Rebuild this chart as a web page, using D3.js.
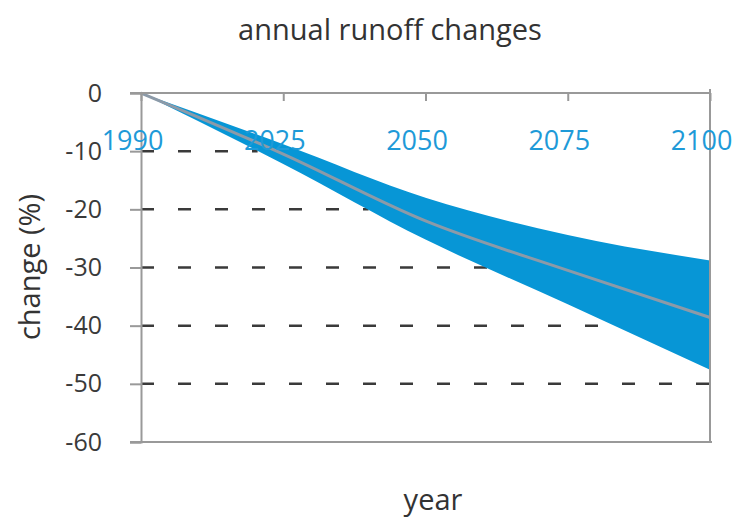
<!DOCTYPE html>
<html>
<head>
<meta charset="utf-8">
<script src="https://cdn.jsdelivr.net/npm/d3@7"></script>
<style>
  body { margin: 0; background: #fff; }
  svg { font-family: "Open Sans", "Noto Sans", sans-serif; }
</style>
</head>
<body>
<svg id="chart" width="734" height="518"></svg>
<script>
// values
var years = ["1990", "2025", "2050", "2075", "2100"];
var upper = [0, -8.8, -18.0, -24.4, -28.8];
var lower = [0, -12.2, -25.2, -36.3, -47.6];
var median = [0, -10.5, -22.0, -30.5, -38.6];
var yTicks = [0, -10, -20, -30, -40, -50, -60];
var gridLevels = [-10, -20, -30, -40, -50];

var svg = d3.select("#chart");
var plotL = 141, plotR = 710, plotT = 93, plotB = 442;

var x = d3.scalePoint().domain(years).range([plotL, plotR]);
var y = d3.scaleLinear().domain([0, -60]).range([plotT, plotB]);

var rows = years.map(function(d, i) {
  return { year: d, hi: upper[i], lo: lower[i], mid: median[i] };
});

// the dashed lines stop where the lower edge of the band reaches them
function gridEnd(level) {
  for (var i = 1; i < rows.length; i++) {
    var a = rows[i - 1], b = rows[i];
    if (b.lo <= level && a.lo > level) {
      var t = (a.lo - level) / (a.lo - b.lo);
      return x(a.year) + t * (x(b.year) - x(a.year));
    }
  }
  return plotR;
}

svg.append("g")
  .selectAll("line")
  .data(gridLevels)
  .enter().append("line")
  .attr("x1", plotL)
  .attr("x2", function(d) { return gridEnd(d); })
  .attr("y1", function(d) { return y(d); })
  .attr("y2", function(d) { return y(d); })
  .attr("stroke", "#3a3a3a")
  .attr("stroke-width", 2.5)
  .attr("stroke-dasharray", "13,24");

// range band
var area = d3.area()
  .x(function(d) { return x(d.year); })
  .y0(function(d) { return y(d.lo); })
  .y1(function(d) { return y(d.hi); })
  .curve(d3.curveMonotoneX);

svg.append("path")
  .datum(rows)
  .attr("d", area)
  .attr("fill", "#0796d6");

var line = d3.line()
  .x(function(d) { return x(d.year); })
  .y(function(d) { return y(d.mid); })
  .curve(d3.curveMonotoneX);

svg.append("path")
  .datum(rows)
  .attr("d", line)
  .attr("fill", "none")
  .attr("stroke", "#8c9aa8")
  .attr("stroke-width", 3);

// frame
var frame = svg.append("g").attr("stroke", "#999").attr("stroke-width", 2);
frame.append("line").attr("x1", 130).attr("x2", plotR).attr("y1", plotT).attr("y2", plotT);
frame.append("line").attr("x1", 130).attr("x2", plotR + 2).attr("y1", plotB).attr("y2", plotB);
frame.append("line").attr("x1", plotR).attr("x2", plotR).attr("y1", plotT - 4).attr("y2", plotB);

// left axis
var yAxis = svg.append("g")
  .attr("transform", "translate(" + plotL + ",0)")
  .call(d3.axisLeft(y).tickValues(yTicks).tickSize(11).tickPadding(28)
    .tickFormat(function(d) { return String(d); }));
yAxis.select(".domain").attr("stroke", "#999").attr("stroke-width", 2);
yAxis.selectAll(".tick line").attr("stroke", "#999").attr("stroke-width", 2);
yAxis.selectAll(".tick text")
  .attr("font-size", 25)
  .attr("font-family", "Open Sans, sans-serif")
  .attr("fill", "#3a3a3a");

// year axis along the top
var xAxis = svg.append("g")
  .attr("transform", "translate(0," + plotT + ")")
  .call(d3.axisBottom(x).tickSize(8).tickPadding(30));
xAxis.select(".domain").remove();
xAxis.selectAll(".tick line").attr("stroke", "#999").attr("stroke-width", 2);
xAxis.selectAll(".tick text")
  .attr("font-size", 27)
  .attr("font-family", "Open Sans, sans-serif")
  .attr("fill", "#1e9ad8")
  .attr("dx", -9);

// titles
svg.append("text")
  .attr("x", 390).attr("y", 40)
  .attr("text-anchor", "middle")
  .attr("font-size", 29)
  .attr("fill", "#333")
  .text("annual runoff changes");

svg.append("text")
  .attr("transform", "translate(40,267) rotate(-90)")
  .attr("text-anchor", "middle")
  .attr("font-size", 29)
  .attr("fill", "#333")
  .text("change (%)");

svg.append("text")
  .attr("x", 433).attr("y", 510)
  .attr("text-anchor", "middle")
  .attr("font-size", 29)
  .attr("fill", "#333")
  .text("year");
</script>
</body>
</html>
